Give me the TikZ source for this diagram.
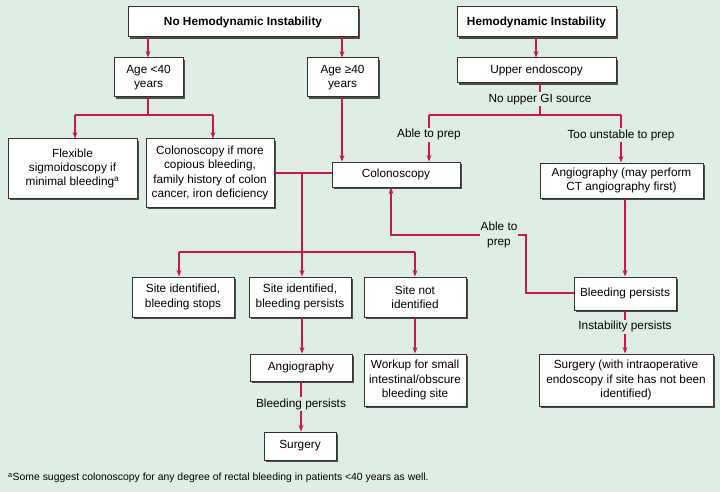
\documentclass[tikz,border=0pt]{standalone}
\usepackage{fontspec}
\setmainfont{Liberation Sans}
\usetikzlibrary{arrows.meta,shadows}
\definecolor{bg}{HTML}{DFEEE5}
\definecolor{arr}{HTML}{C8194B}
\definecolor{bord}{HTML}{333333}
\begin{document}
\begin{tikzpicture}[x=1pt,y=-1pt,
  font=\fontsize{11.8}{14.4}\selectfont,
  box/.style={draw=bord,line width=1pt,fill=white,align=center,inner sep=1pt,
    drop shadow={shadow xshift=1.8pt,shadow yshift=-1.8pt,fill=black!70,opacity=1}},
  conn/.style={draw=arr,line width=1.6pt},
  arw/.style={conn,-{Stealth[length=6.5pt,width=5pt]}},
  lbl/.style={fill=bg,inner sep=1.5pt,align=center}]
\path[use as bounding box,fill=bg] (0,0) rectangle (720,492);
% boxes
\node[box,minimum width=230,minimum height=30,font=\fontsize{11.8}{14.4}\selectfont\bfseries] (nohemo) at (243,22) {No Hemodynamic Instability};
\node[box,minimum width=159,minimum height=30,font=\fontsize{11.8}{14.4}\selectfont\bfseries] (hemo) at (536.5,22) {Hemodynamic Instability};
\node[box,minimum width=159,minimum height=25] (upper) at (536.5,70.5) {Upper endoscopy};
\node[box,minimum width=69,minimum height=39] (age1) at (148.5,77.5) {Age <40\\years};
\node[box,minimum width=71,minimum height=39] (age2) at (342.5,77.5) {Age ≥40\\years};
\node[box,minimum width=129,minimum height=59] (flex) at (72.5,168.5) {Flexible\\sigmoidoscopy if\\minimal bleeding\textsuperscript{a}};
\node[box,minimum width=128,minimum height=68] (colif) at (210,173) {Colonoscopy if more\\copious bleeding,\\family history of colon\\cancer, iron deficiency};
\node[box,minimum width=128,minimum height=25] (colon) at (396,174.5) {Colonoscopy};
\node[box,minimum width=163,minimum height=35] (angio1) at (621.5,180.5) {Angiography (may perform\\CT angiography first)};
\node[box,minimum width=102,minimum height=40] (sstop) at (183,297) {Site identified,\\bleeding stops};
\node[box,minimum width=102,minimum height=40] (spers) at (300,297) {Site identified,\\bleeding persists};
\node[box,minimum width=102,minimum height=40] (snot) at (415,297) {Site not\\identified};
\node[box,minimum width=102,minimum height=27] (angio2) at (301,367.5) {Angiography};
\node[box,minimum width=72,minimum height=28] (surg1) at (300,446) {Surgery};
\node[box,minimum width=102,minimum height=52] (workup) at (415,380) {Workup for small\\intestinal/obscure\\bleeding site};
\node[box,minimum width=102,minimum height=33] (bleedp) at (625,293.5) {Bleeding persists};
\node[box,minimum width=174,minimum height=52] (surg2) at (626,380) {Surgery (with intraoperative\\endoscopy if site has not been\\identified)};
% left tree
\draw[arw] (nohemo.south -| 148,0) -- (age1.north -| 148,0);
\draw[arw] (nohemo.south -| 342,0) -- (age2.north -| 342,0);
\coordinate (j1) at (148,115);
\draw[conn] (age1.south -| j1) -- (j1);
\draw[arw] (75,115) -- (flex.north -| 75,0);
\draw[conn] (75,115) -- (213,115);
\draw[arw] (213,115) -- (colif.north -| 213,0);
\draw[arw] (age2.south -| 342,0) -- (colon.north -| 342,0);
% colonoscopy branch
\coordinate (j2) at (302,173);
\coordinate (j3) at (302,252);
\draw[conn] (colif.east |- j2) -- (colon.west |- j2);
\draw[conn] (j2) -- (j3);
\draw[conn] (179,252) -- (415,252);
\draw[arw] (179,252) -- (sstop.north -| 179,0);
\draw[arw] (415,252) -- (snot.north);
\draw[arw] (j3) -- (spers.north -| j3);
\draw[arw] (spers.south -| 302,0) -- (angio2.north -| 302,0);
\draw[arw] (angio2.south -| 301,0) -- node[lbl,pos=0.45]{Bleeding persists} (surg1.north -| 301,0);
\draw[arw] (snot.south) -- (workup.north);
% right tree
\draw[arw] (hemo.south -| 536,0) -- (upper.north -| 536,0);
\coordinate (j4) at (540,115);
\draw[conn] (upper.south -| j4) -- node[lbl]{No upper GI source} (j4);
\draw[conn] (429,115) -- (621,115);
\draw[arw] (429,115) -- node[lbl,pos=0.42]{Able to prep} (colon.north -| 429,0);
\draw[arw] (621,115) -- node[lbl,pos=0.42]{Too unstable to prep} (angio1.north -| 621,0);
\draw[arw] (angio1.south -| bleedp) -- (bleedp.north);
\draw[arw] (bleedp.west |- 0,293) -- (526,293) -- (526,235) -- node[lbl,pos=0.2,inner sep=1pt]{Able to\\prep} (391,235) -- (colon.south -| 391,0);
\draw[arw] (bleedp.south) -- node[lbl,pos=0.38]{Instability persists} (surg2.north -| bleedp);
% footnote
\node[anchor=west,inner sep=0,font=\fontsize{10.4}{12}\selectfont] (fn) at (8,478) {\textsuperscript{a}Some suggest colonoscopy for any degree of rectal bleeding in patients <40 years as well.};
\end{tikzpicture}
\end{document}
